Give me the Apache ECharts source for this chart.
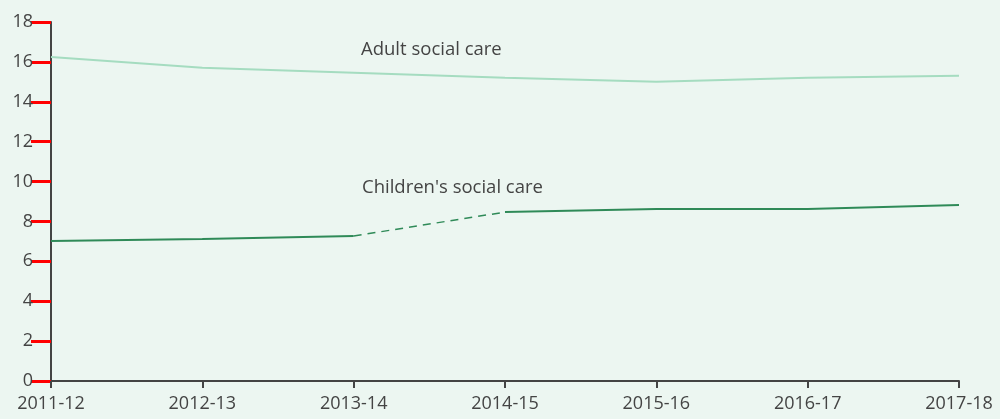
<!DOCTYPE html>
<html>
<head>
<meta charset="utf-8">
<script src="https://cdn.jsdelivr.net/npm/echarts@6/dist/echarts.min.js"></script>
<style>
  html, body { margin: 0; padding: 0; background: #ecf6f1; }
  #chart { width: 1000px; height: 419px; }
</style>
</head>
<body>
<div id="chart"></div>
<script>
// 数据
var years = ['2011-12', '2012-13', '2013-14', '2014-15', '2015-16', '2016-17', '2017-18'];
var adultCare = [16.25, 15.7, 15.45, 15.2, 15.0, 15.2, 15.3];
var childrenCare = [7.02, 7.12, 7.27, 8.47, 8.62, 8.62, 8.82];
var yTicks = [0, 2, 4, 6, 8, 10, 12, 14, 16, 18];

// 2013-14 -> 2014-15 用虚线
var gapFrom = 2;
function part(arr, from, to) {
    return arr.map(function (v, i) { return (i >= from && i <= to) ? v : '-'; });
}

var myChart = echarts.init(document.getElementById('chart'));
var font = '"Open Sans", "Noto Sans", sans-serif';
var axisColor = '#444';

var option = {
    backgroundColor: '#ecf6f1',
    animation: false,
    grid: { left: 51, right: 41, top: 22, bottom: 38 },
    xAxis: {
        type: 'category',
        data: years,
        boundaryGap: false,
        axisLine: { lineStyle: { color: axisColor, width: 2 } },
        axisTick: { length: 7, lineStyle: { color: axisColor, width: 2 } },
        axisLabel: { color: '#444', fontSize: 18, fontFamily: font, margin: 14 },
        splitLine: { show: false }
    },
    yAxis: {
        type: 'value',
        min: yTicks[0],
        max: yTicks[yTicks.length - 1],
        interval: 2,
        axisLine: { show: true, lineStyle: { color: axisColor, width: 2 } },
        axisTick: { show: true, length: 20, lineStyle: { color: 'red', width: 3 } },
        axisLabel: { color: '#444', fontSize: 18, fontFamily: font, margin: 18 },
        splitLine: { show: false }
    },
    series: [{
        name: 'Adult social care',
        type: 'line',
        data: adultCare,
        symbol: 'none',
        lineStyle: { color: '#a5dcc0', width: 2 }
    }, {
        name: "Children's social care",
        type: 'line',
        data: part(childrenCare, 0, gapFrom),
        symbol: 'none',
        lineStyle: { color: '#2f8a58', width: 2 }
    }, {
        name: "Children's social care",
        type: 'line',
        data: part(childrenCare, gapFrom + 1, childrenCare.length - 1),
        symbol: 'none',
        lineStyle: { color: '#2f8a58', width: 2 }
    }, {
        name: "Children's social care",
        type: 'line',
        data: part(childrenCare, gapFrom, gapFrom + 1),
        symbol: 'none',
        lineStyle: { color: '#2f8a58', width: 1.5, type: [8, 6] }
    }],
    graphic: [{
        type: 'text',
        left: 361,
        top: 40,
        style: { text: 'Adult social care', fill: '#444', font: '18.5px ' + font }
    }, {
        type: 'text',
        left: 362,
        top: 178,
        style: { text: "Children's social care", fill: '#444', font: '18.5px ' + font }
    }]
};

myChart.setOption(option);
</script>
</body>
</html>
